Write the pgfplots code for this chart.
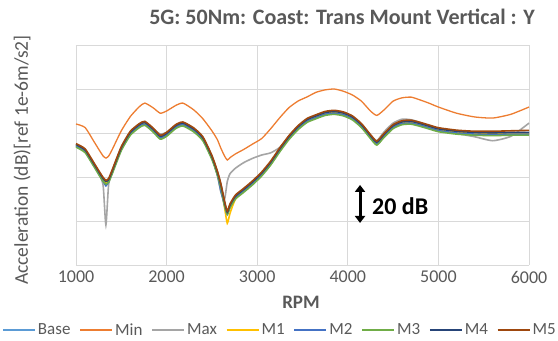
\documentclass[border=0pt]{standalone}
\usepackage{fontspec}
\setmainfont{Carlito}
\usepackage{pgfplots}
\pgfplotsset{compat=1.18}
\usepackage{pgfplotstable}
\usetikzlibrary{arrows.meta,calc}
\definecolor{cBase}{HTML}{5B9BD5}
\definecolor{cMin}{HTML}{ED7D31}
\definecolor{cMax}{HTML}{A5A5A5}
\definecolor{cMa}{HTML}{FFC000}
\definecolor{cMb}{HTML}{4472C4}
\definecolor{cMc}{HTML}{70AD47}
\definecolor{cMd}{HTML}{264478}
\definecolor{cMe}{HTML}{9E480E}
\definecolor{txt}{HTML}{595959}
\definecolor{gridc}{HTML}{D9D9D9}

\pgfplotstableread{
rpm  base  min   max   ma    mb    mc    md    me
1000 54.5 64.1 54.8 54.3 54.0 53.6 54.8 55.2
1100 52.0 62.5 52.3 51.8 51.5 51.1 52.3 52.8
1200 45.5 56.0 45.8 45.2 45.0 44.6 45.8 46.3
1260 41.5 52.0 41.0 41.2 40.8 40.5 41.8 42.3
1300 39.0 49.5 36.0 38.6 38.0 38.0 39.3 39.8
1330 37.7 48.6 18.2 37.3 36.0 36.8 38.0 38.5
1360 38.5 49.5 36.5 38.2 37.8 37.6 38.8 39.3
1400 42.5 52.5 42.0 42.2 42.0 41.5 42.8 43.3
1500 53.0 61.0 53.2 52.8 52.5 52.0 53.3 53.8
1600 60.0 67.5 60.2 59.8 59.5 59.0 60.3 60.8
1700 63.5 72.0 63.7 63.3 63.0 62.5 63.8 64.3
1760 64.5 73.6 64.7 64.3 64.0 63.5 64.8 65.3
1850 61.5 71.5 62.0 61.3 61.0 60.5 61.8 62.3
1930 58.2 69.0 59.5 58.0 57.7 57.2 58.5 59.0
2000 59.5 70.0 60.3 59.3 59.0 58.5 59.8 60.3
2100 63.0 72.5 63.3 62.8 62.5 62.0 63.3 63.8
2180 64.2 73.6 64.5 64.0 63.7 63.2 64.5 65.0
2300 61.5 70.5 61.8 61.3 61.0 60.5 61.8 62.3
2400 57.5 66.5 57.8 57.3 57.0 56.5 57.8 58.3
2500 49.0 61.0 49.3 48.8 48.5 48.0 49.3 49.8
2560 42.0 57.0 41.0 41.5 41.0 41.0 42.3 42.8
2600 36.0 53.0 33.0 35.0 33.5 35.0 36.3 36.8
2640 28.0 49.5 30.0 26.0 27.0 27.0 28.5 29.0
2670 23.5 47.7 38.0 19.0 23.0 23.0 24.0 24.5
2700 27.0 48.8 41.5 23.5 26.5 26.0 27.3 27.8
2760 31.0 50.5 44.0 30.0 30.5 30.0 31.3 31.8
2850 34.0 52.5 46.5 33.8 33.5 33.0 34.3 34.8
2950 37.5 55.0 48.5 37.3 37.0 36.5 37.8 38.3
3050 41.5 57.5 50.0 41.3 41.0 40.5 41.8 42.3
3150 46.5 62.0 51.0 46.3 46.0 45.5 46.8 47.3
3250 52.5 67.0 53.5 52.3 52.0 51.5 52.8 53.3
3350 58.0 71.5 58.3 57.8 57.5 57.0 58.3 58.8
3450 62.5 74.5 62.8 62.3 62.0 61.5 62.8 63.3
3550 65.8 76.4 66.0 65.6 65.3 64.8 66.1 66.6
3650 67.5 78.5 67.8 67.3 67.0 66.5 67.8 68.3
3750 69.0 79.6 69.3 68.8 68.5 68.0 69.3 69.8
3850 69.5 80.0 69.8 69.3 69.0 68.5 69.8 70.3
3950 68.8 79.0 69.1 68.6 68.3 67.8 69.1 69.6
4050 67.0 77.3 67.3 66.8 66.5 66.0 67.3 67.8
4150 63.5 74.5 63.8 63.3 63.0 62.5 63.8 64.3
4250 58.5 70.0 59.0 58.3 58.0 57.5 58.8 59.3
4320 55.5 68.0 56.5 55.3 55.0 54.5 55.8 56.3
4400 59.0 70.5 60.5 58.8 58.5 58.0 59.3 59.8
4500 63.0 74.5 64.5 62.8 62.5 62.0 63.3 63.8
4600 64.8 76.0 66.3 64.6 64.3 63.8 65.1 65.6
4700 65.0 76.3 66.0 64.8 64.5 64.0 65.3 65.8
4800 64.0 75.0 64.8 63.8 63.5 63.0 64.3 64.8
4900 62.8 73.5 63.0 62.6 62.3 61.8 63.1 63.6
5000 61.6 71.8 61.5 61.4 61.1 60.6 61.9 62.4
5200 60.5 69.0 59.8 60.3 60.0 59.5 60.8 61.3
5400 60.0 67.3 58.3 59.8 59.5 59.0 60.3 60.8
5600 59.8 66.8 56.5 59.6 59.3 58.8 60.1 60.8
5800 60.0 68.5 58.5 59.8 59.5 59.0 60.3 61.0
6000 60.0 71.8 64.5 59.8 59.5 59.0 60.3 61.2
}\data

\begin{document}
\begin{tikzpicture}
\begin{axis}[
  scale only axis, width=453pt, height=220pt,
  xmin=1000, xmax=6000, ymin=0, ymax=100,
  xtick={1000,2000,3000,4000,5000,6000},
  ytick={0,20,40,60,80,100}, yticklabels={},
  grid=major, major grid style={draw=gridc, line width=0.7pt},
  axis line style={draw=none}, tick style={draw=none},
  /pgf/number format/assume math mode=true,
  /pgf/number format/1000 sep={},
  xticklabel style={font=\fontsize{18}{18}\selectfont, text=txt, anchor=center, yshift=-12pt},
  clip=false,
  legend style={draw=none, fill=none, at={(axis cs:3252,-29.5)}, anchor=center,
    font=\fontsize{17}{17}\selectfont, text=txt, legend columns=8,
    /tikz/every even column/.append style={column sep=7pt},
    inner sep=0pt, outer sep=0pt},
  legend cell align=left,
  legend image code/.code={\draw[#1, line width=1.6pt] (0pt,0pt) -- (32pt,0pt);},
  every axis plot/.append style={line width=1.6pt, smooth, tension=0.35},
]
\addplot[cBase] table[x=rpm,y=base] {\data};
\addplot[cMin, line width=1.3pt] table[x=rpm,y=min] {\data};
\addplot[cMax] table[x=rpm,y=max] {\data};
\addplot[cMa] table[x=rpm,y=ma] {\data};
\addplot[cMb] table[x=rpm,y=mb] {\data};
\addplot[cMc] table[x=rpm,y=mc] {\data};
\addplot[cMd] table[x=rpm,y=md] {\data};
\addplot[cMe] table[x=rpm,y=me] {\data};
\legend{Base,Min,Max,M1,M2,M3,M4,M5}
\node[font=\bfseries\fontsize{22}{22}\selectfont, text=txt] at (axis cs:3936,112.7) {5G: 50Nm: Coast: Trans Mount Vertical : Y};
\node[rotate=90, font=\fontsize{19.5}{20}\selectfont, text=txt] at (axis cs:404,47.7) {Acceleration (dB)[ref 1e-6m/s2]};
\node[font=\bfseries\fontsize{19}{19}\selectfont, text=txt] at (axis cs:3483,-16.8) {RPM};
\draw[black, line width=3pt, {Triangle[width=10pt,length=7pt]}-{Triangle[width=10pt,length=7pt]}] (axis cs:4135,36.4) -- (axis cs:4135,19.1);
\node[font=\bfseries\fontsize{24}{24}\selectfont, anchor=west, inner sep=0pt] at (axis cs:4267,26.8) {20 dB};
\coordinate (bl) at (rel axis cs:0,0);
\coordinate (tr) at (rel axis cs:1,1);
\end{axis}
\pgfresetboundingbox
\path[use as bounding box] ($(bl)+(-76pt,-75pt)$) rectangle ($(tr)+(29pt,45pt)$);
\end{tikzpicture}
\end{document}
